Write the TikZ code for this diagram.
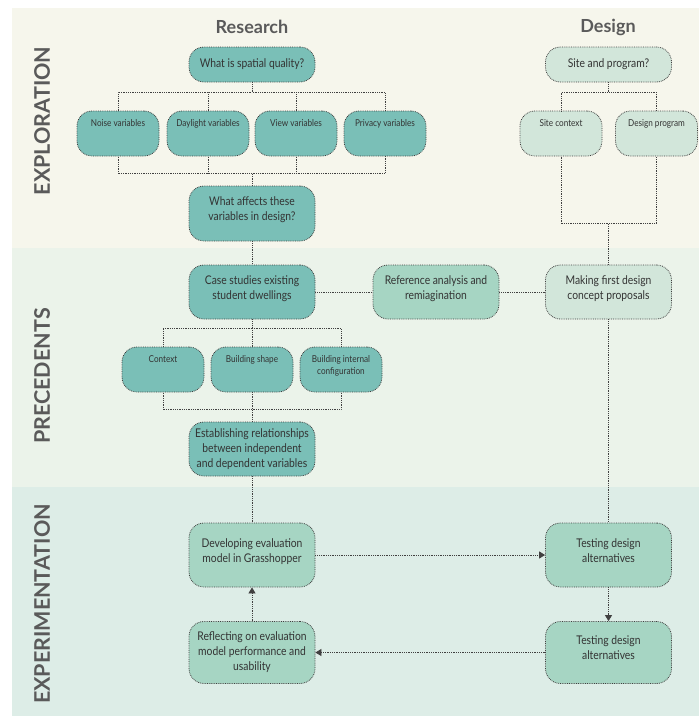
\documentclass[tikz,border=0pt]{standalone}
\usepackage{fontspec}
\setmainfont{Lato}
\newfontfamily\narrowfont{Lato}[FakeStretch=0.86]
\usetikzlibrary{arrows.meta,calc}
\definecolor{bandexp}{HTML}{F6F6EC}
\definecolor{bandprec}{HTML}{EBF3EA}
\definecolor{bandtest}{HTML}{DDEDE7}
\definecolor{research}{HTML}{7ABFB7}
\definecolor{mint}{HTML}{A6D5C3}
\definecolor{pale}{HTML}{D2E6DA}
\definecolor{ink}{HTML}{5A5A5A}
\tikzset{box/.style={draw=black!75,densely dotted,line width=0.8pt,rounded corners=15pt,align=center,minimum width=126pt,inner sep=2pt,text=black!80,font=\narrowfont\fontsize{12}{15}\selectfont},twoline/.style={text depth=9pt},small/.style={box,minimum width=82pt,minimum height=45pt,inner ysep=0pt,text height=15pt,text depth=30pt,font=\narrowfont\fontsize{9.5}{12}\selectfont},smalltwo/.style={small,text height=27pt,text depth=18pt},link/.style={densely dotted,line width=0.8pt,draw=black!75},arrow/.style={link,-{Triangle[width=7pt,length=6pt]}},title/.style={font=\bfseries\fontsize{18}{20}\selectfont,text=ink},side/.style={font=\bfseries\fontsize{21.5}{24}\selectfont,text=ink,rotate=90}}

\begin{document}
\begin{tikzpicture}[x=1pt,y=-1pt]
\useasboundingbox (0,0) rectangle (699,718);
\fill[bandexp] (12,8) rectangle (699,248);
\fill[bandprec] (12,248) rectangle (699,487);
\fill[bandtest] (12,487) rectangle (699,716);
\node[side] (lexp) at (42,121) {EXPLORATION};
\node[side] (lprec) at (42,376) {PRECEDENTS};
\node[side] (ltest) at (42,604) {EXPERIMENTATION};
\node[title] (tres) at (252,27) {Research};
\node[title] (tdes) at (608,27) {Design};
\node[box,fill=research,minimum height=35pt] (q1) at (252,64.5) {What is spatial quality?};
\node[small,fill=research] (noise) at (118,133.5) {Noise variables};
\node[small,fill=research] (daylight) at (208,133.5) {Daylight variables};
\node[small,fill=research] (view) at (296,133.5) {View variables};
\node[small,fill=research] (privacy) at (385,133.5) {Privacy variables};
\node[box,twoline,fill=research,minimum height=55pt] (q2) at (252,213.5) {What affects these\\variables in design?};
\node[box,fill=pale,minimum height=35pt] (site) at (608.5,64.5) {Site and program?};
\node[small,fill=pale] (sitectx) at (561,133.5) {Site context};
\node[small,fill=pale] (prog) at (656.5,133.5) {Design program};
\node[box,twoline,fill=research,minimum height=54pt] (case) at (252,292) {Case studies existing\\student dwellings};
\node[box,twoline,fill=mint,minimum height=54pt] (ref) at (436,292) {Reference analysis and\\remiagination};
\node[box,twoline,fill=pale,minimum height=54pt] (making) at (608.5,292) {Making first design\\concept proposals};
\node[small,fill=research] (context) at (163,369.5) {Context};
\node[small,fill=research] (shape) at (252,369.5) {Building shape};
\node[smalltwo,fill=research] (internal) at (341,369.5) {Building internal\\configuration};
\node[box,fill=research,minimum height=54pt] (estab) at (252,449) {Establishing relationships\\between independent\\and dependent variables};
\node[box,twoline,fill=mint,minimum height=64pt] (dev) at (252,555) {Developing evaluation\\model in Grasshopper};
\node[box,twoline,fill=mint,minimum height=64pt] (test1) at (608.5,555) {Testing design\\alternatives};
\node[box,twoline,fill=mint,minimum height=62pt] (test2) at (608.5,652.5) {Testing design\\alternatives};
\node[box,fill=mint,minimum height=62pt] (refl) at (252,652.5) {Reflecting on evaluation\\model performance and\\usability};
\draw[link] (q1.south) -- ++(0,10) -| (noise);\draw[link] (q1.south) -- ++(0,10) -| (daylight);\draw[link] (q1.south) -- ++(0,10) -| (view);\draw[link] (q1.south) -- ++(0,10) -| (privacy);
\draw[link] (q2.north) -- ++(0,-12) -| (noise);\draw[link] (q2.north) -- ++(0,-12) -| (daylight);\draw[link] (q2.north) -- ++(0,-12) -| (view);\draw[link] (q2.north) -- ++(0,-12) -| (privacy);
\draw[link] (site.south) -- ++(0,10) -| (sitectx);\draw[link] (site.south) -- ++(0,10) -| (prog);
\draw[link] (making.north) -- ++(0,-41) -| (sitectx);\draw[link] (making.north) -- ++(0,-41) -| (prog);
\draw[link] (q2) -- (case);\draw[link] (case) -- (ref);\draw[link] (ref) -- (making);
\draw[link] (case.south) -- ++(0,9) -| (context);\draw[link] (case.south) -- ++(0,9) -| (shape);\draw[link] (case.south) -- ++(0,9) -| (internal);
\draw[link] (estab.north) -- ++(0,-12) -| (context);\draw[link] (estab.north) -- ++(0,-12) -| (shape);\draw[link] (estab.north) -- ++(0,-12) -| (internal);
\draw[link] (estab) -- (dev);\draw[link] (making) -- (test1);
\draw[arrow] (dev) -- (test1);\draw[arrow] (test1) -- (test2);\draw[arrow] (test2) -- (refl);\draw[arrow] (refl) -- (dev);
\end{tikzpicture}
\end{document}
